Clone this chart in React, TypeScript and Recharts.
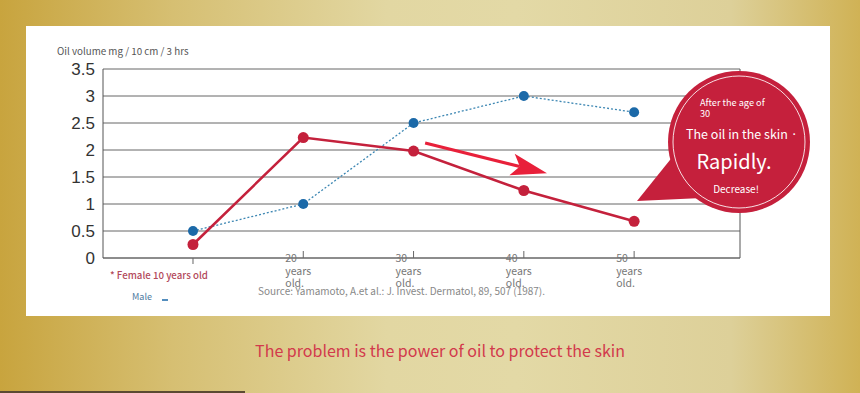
import React from 'react';
import { LineChart, Line, XAxis, YAxis, CartesianGrid, ReferenceLine } from 'recharts';

const ages = [10, 20, 30, 40, 50];
const maleValues = [0.5, 1.0, 2.5, 3.0, 2.7];
const femaleValues = [0.25, 2.23, 1.98, 1.25, 0.68];
const yTicks = [0, 0.5, 1, 1.5, 2, 2.5, 3, 3.5];
const xTickLabels = ['10', '20', '30', '40', '50'];
const xDomain: [number, number] = [1.84, 59.6];
const arrowFrom = { x: 31.05, y: 2.13 };
const arrowTo = { x: 42.1, y: 1.57 };

const data = ages.map((age, i) => ({ age, male: maleValues[i], female: femaleValues[i] }));

const CJK = '"Noto Sans CJK JP", "Noto Sans", sans-serif';

const XTick = (props: any) => {
  const { x, y, payload } = props;
  const idx = ages.indexOf(payload.value);
  if (idx === 0) {
    return <line x1={x} x2={x} y1={y} y2={y + 6} stroke="#666" strokeWidth={1} />;
  }
  return (
    <g>
      <line x1={x} x2={x} y1={y - 7} y2={y} stroke="#666" strokeWidth={1} />
      <text fontFamily={CJK} fontSize={10.5} fill="#777">
        <tspan x={x - 18} y={y + 4}>{xTickLabels[idx]}</tspan>
        <tspan x={x - 18} y={y + 17}>years</tspan>
        <tspan x={x - 18} y={y + 29}>old.</tspan>
      </text>
    </g>
  );
};

const ArrowShape = (props: any) => {
  const { x1, y1, x2, y2 } = props;
  if ([x1, y1, x2, y2].some((v) => typeof v !== 'number' || isNaN(v))) return null;
  const dx = x2 - x1;
  const dy = y2 - y1;
  const len = Math.sqrt(dx * dx + dy * dy);
  const ux = dx / len;
  const uy = dy / len;
  const px = -uy;
  const py = ux;
  const headLen = 36;
  const headW = 11;
  const bx = x2 - ux * headLen;
  const by = y2 - uy * headLen;
  const nx = x2 - ux * (headLen - 8);
  const ny = y2 - uy * (headLen - 8);
  return (
    <g>
      <line x1={x1} y1={y1} x2={nx} y2={ny} stroke="#e8203a" strokeWidth={3.2} />
      <polygon
        points={`${x2},${y2} ${bx + px * headW},${by + py * headW} ${nx},${ny} ${bx - px * headW},${by - py * headW}`}
        fill="#e8203a"
      />
    </g>
  );
};

export default function App() {
  return (
    <div
      style={{
        position: 'fixed',
        left: 0,
        top: 0,
        width: 860,
        height: 393,
        overflow: 'hidden',
        background:
          'linear-gradient(90deg, #c8a43e 0%, #d6bf72 20%, #e2d7a2 45%, #e3d9a6 60%, #ddd099 85%, #d0b255 100%)',
      }}
    >
      <div style={{ position: 'absolute', left: 26, top: 26, width: 804, height: 290, background: '#ffffff' }} />
      <div style={{ position: 'absolute', left: 0, top: 391, width: 245, height: 2, background: '#5b4a32' }} />
      <div style={{ position: 'absolute', left: 0, top: 0 }}>
        <LineChart width={860} height={393} data={data} margin={{ top: 69, right: 120, bottom: 105, left: 0 }}>
          <CartesianGrid horizontal vertical={false} stroke="#666" strokeWidth={1} />
          <XAxis
            dataKey="age"
            type="number"
            domain={xDomain}
            ticks={ages}
            allowDataOverflow
            height={30}
            tickSize={0}
            tickMargin={0}
            tickLine={false}
            axisLine={{ stroke: '#666', strokeWidth: 1 }}
            tick={<XTick />}
            interval={0}
          />
          <YAxis
            type="number"
            domain={[0, 3.5]}
            ticks={yTicks}
            width={103}
            tickSize={6}
            tickMargin={2}
            tickLine={false}
            axisLine={{ stroke: '#555', strokeWidth: 1 }}
            tick={{ fill: '#333', fontSize: 17, fontFamily: '"Liberation Sans", Arial, sans-serif' }}
            interval={0}
          />
          <ReferenceLine x={xDomain[1]} stroke="#555" strokeWidth={1} ifOverflow="extendDomain" />
          <Line
            dataKey="male"
            stroke="#3d87b3"
            strokeWidth={1.3}
            strokeDasharray="2 2"
            dot={{ r: 5, fill: '#1b69a8', stroke: 'none' }}
            isAnimationActive={false}
          />
          <Line
            dataKey="female"
            stroke="#c4213c"
            strokeWidth={2.5}
            dot={{ r: 5.5, fill: '#c4213c', stroke: 'none' }}
            isAnimationActive={false}
          />
          <ReferenceLine
            segment={[arrowFrom, arrowTo]}
            stroke="#e8203a"
            shape={<ArrowShape />}
            ifOverflow="visible"
          />
        </LineChart>
      </div>
      <svg width={860} height={393} style={{ position: 'absolute', left: 0, top: 0, pointerEvents: 'none' }}>
        <text x={57} y={55} fontFamily={CJK} fontSize={9.8} fill="#555">
          Oil volume mg / 10 cm / 3 hrs
        </text>
        <text x={110} y={279} fontFamily={CJK} fontSize={9.7} fontWeight={500} fill="#b34a5c">
          * Female 10 years old
        </text>
        <text x={132} y={300} fontFamily={CJK} fontSize={9} fill="#4d7aa0">
          Male
        </text>
        <line x1={162} x2={168} y1={300} y2={300} stroke="#1b69a8" strokeWidth={1.5} />
        <text x={258} y={295} fontFamily={CJK} fontSize={10} fill="#888">
          Source: Yamamoto, A.et al.: J. Invest. Dermatol, 89, 507 (1987).
        </text>
        <text x={440} y={357} textAnchor="middle" fontFamily={CJK} fontSize={16} fill="#d23a4c">
          The problem is the power of oil to protect the skin
        </text>
        <g>
          <polygon points="637,201 678,150 702,198" fill="#c5203c" />
          <circle cx={739} cy={142} r={71} fill="#c5203c" />
          <circle cx={739} cy={142} r={66} fill="none" stroke="rgba(255,255,255,0.85)" strokeWidth={1} />
          <text fontFamily={CJK} fontSize={9.2} fill="#ffffff">
            <tspan x={700} y={106}>After the age of</tspan>
            <tspan x={700} y={117}>30</tspan>
          </text>
          <text x={686} y={139} fontFamily={CJK} fontSize={12.5} fill="#ffffff">
            The oil in the skin ·
          </text>
          <text x={734} y={169} textAnchor="middle" fontFamily={CJK} fontSize={20} fill="#ffffff">
            Rapidly.
          </text>
          <text x={736} y={193} textAnchor="middle" fontFamily={CJK} fontSize={10} fill="#ffffff">
            Decrease!
          </text>
        </g>
      </svg>
    </div>
  );
}
